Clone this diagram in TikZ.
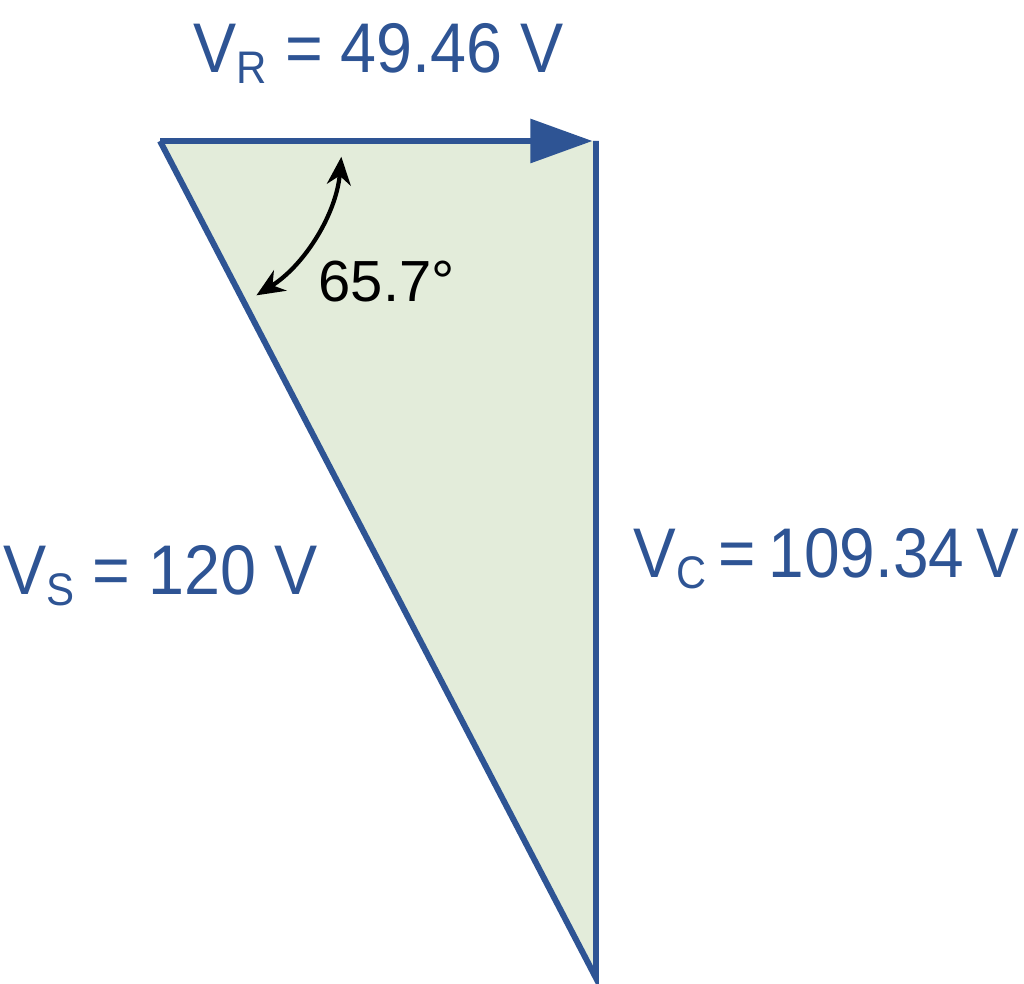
\documentclass[tikz,border=0pt]{standalone}
\usepackage{fontspec}
\setmainfont{Liberation Sans}
\newfontfamily\narrowfont[FakeStretch=0.92]{Liberation Sans}
\newfontfamily\tightfont[FakeStretch=0.91,WordSpace=0.7]{Liberation Sans}
\usetikzlibrary{arrows.meta}
\definecolor{phasorblue}{RGB}{46,84,148}
\definecolor{trifill}{RGB}{227,236,218}
\newcommand\Sub[1]{\raisebox{-0.15em}{\fontsize{13}{13}\selectfont #1}}
\newcommand\VoltLabel[2]{V\Sub{#1} = #2 V}
\tikzset{
    side/.style={color=phasorblue,line width=1.7pt},
    volt/.style={anchor=base west,inner sep=0pt,text=phasorblue,font=\narrowfont\fontsize{20}{24}\selectfont},
    angarrow/.style={<->,>={Stealth[length=0.28cm,width=0.24cm]},line width=1.2pt},
}

\begin{document}
\begin{tikzpicture}
    \useasboundingbox (0,0) rectangle (10.24,9.84);
    \coordinate (Start) at (1.60,8.43);
    \coordinate (Corner) at (5.96,8.43);
    \coordinate (Tip) at (5.96,0.06);
    % triangle
    \fill[trifill] (Start) -- (Corner) -- (Tip) -- cycle;
    \draw[side] (Corner) -- (Tip) -- (Start);
    \draw[side,-{Triangle[length=0.62cm,width=0.43cm]},shorten >=1pt] (Start) -- (Corner);
    % angle
    \draw[angarrow] ([shift={(-5:1.82)}]Start) arc[start angle=-5,end angle=-58,radius=1.82];
    \node[anchor=base west,inner sep=0pt,font=\fontsize{16.5}{20}\selectfont] (angle) at (3.18,6.82) {65.7°};
    % labels
    \node[volt] (vr) at (1.93,9.11) {\VoltLabel{R}{49.46}};
    \node[volt] (vs) at (0.03,3.89) {\VoltLabel{S}{120}};
    \node[volt,font=\tightfont\fontsize{20}{24}\selectfont] (vc) at (6.33,4.06) {\VoltLabel{C}{109.34}};
\end{tikzpicture}
\end{document}
